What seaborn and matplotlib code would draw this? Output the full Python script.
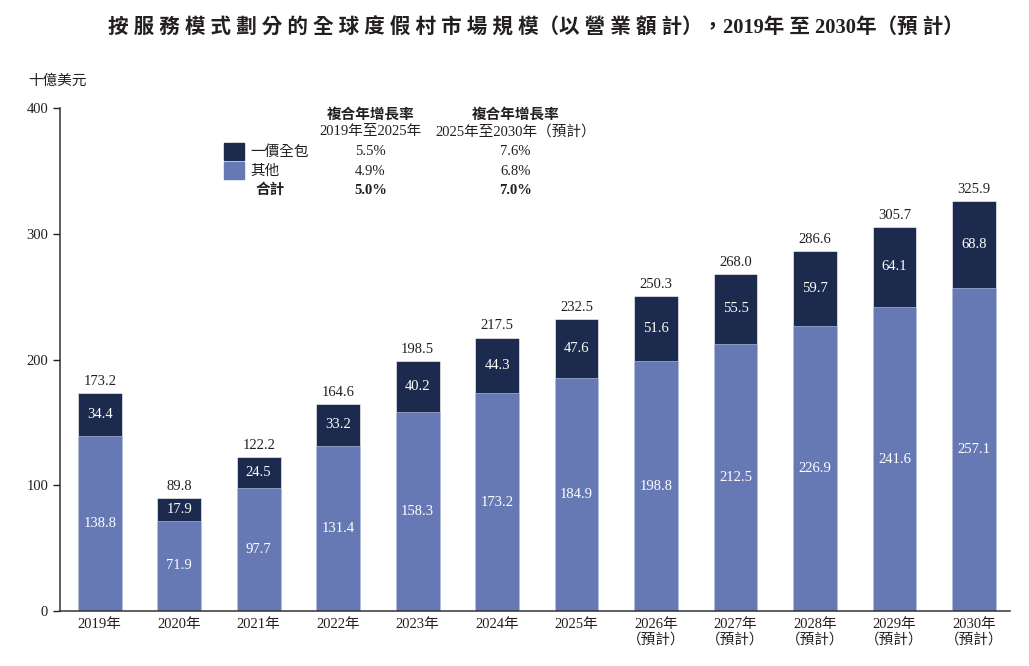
import pandas as pd
import numpy as np
import matplotlib.pyplot as plt
import seaborn as sns

# Data
years = ["2019年", "2020年", "2021年", "2022年", "2023年", "2024年", "2025年",
         "2026年\n（預計）", "2027年\n（預計）", "2028年\n（預計）",
         "2029年\n（預計）", "2030年\n（預計）"]
others = [138.8, 71.9, 97.7, 131.4, 158.3, 173.2, 184.9, 198.8, 212.5, 226.9, 241.6, 257.1]
all_inclusive = [34.4, 17.9, 24.5, 33.2, 40.2, 44.3, 47.6, 51.6, 55.5, 59.7, 64.1, 68.8]
totals = [173.2, 89.8, 122.2, 164.6, 198.5, 217.5, 232.5, 250.3, 268.0, 286.6, 305.7, 325.9]

series_names = ["一價全包", "其他"]
cagr_1925 = ["5.5%", "4.9%", "5.0%"]
cagr_2530 = ["7.6%", "6.8%", "7.0%"]

df = pd.DataFrame({"year": years, "others": others,
                   "inclusive": all_inclusive, "total": totals})
df["stack"] = df["others"] + df["inclusive"]

DARK = "#1c2a4d"
LIGHT = "#6779b5"
TEXT = "#231f20"

sns.set_style("white")
plt.rcParams['font.family'] = ['Liberation Serif', 'Noto Sans CJK TC']

fig = plt.figure(figsize=(10.29, 6.66), dpi=100)
ax = fig.add_axes([0.0583, 0.0826, 0.923, 0.7552])

# Stacked bars: full height in dark, bottom segment in light
sns.barplot(data=df, x="year", y="stack", color=DARK, width=0.55,
            saturation=1, ax=ax, edgecolor="white", linewidth=0.4)
sns.barplot(data=df, x="year", y="others", color=LIGHT, width=0.55,
            saturation=1, ax=ax, edgecolor="#c9d1ea", linewidth=0.4)

for i, row in df.iterrows():
    ax.text(i, row["others"] / 2, f"{row['others']:.1f}", ha="center",
            va="center", color="white", fontsize=10.5)
    ax.text(i, row["others"] + row["inclusive"] / 2, f"{row['inclusive']:.1f}",
            ha="center", va="center", color="white", fontsize=10.5)
    ax.text(i, row["stack"] + 4, f"{row['total']:.1f}", ha="center",
            va="bottom", color=TEXT, fontsize=10.5)

ax.set_xlim(-0.5, 11.45)
ax.set_ylim(0, 400)
ax.set_yticks([0, 100, 200, 300, 400])
ax.set_xlabel("")
ax.set_ylabel("")
ax.tick_params(axis="x", length=0, labelsize=10.5, colors=TEXT, pad=5)
ax.tick_params(axis="y", length=5, width=1, labelsize=10.5, colors=TEXT, left=True)
for lab in ax.get_xticklabels():
    lab.set_linespacing(1.15)
sns.despine(ax=ax)
ax.spines["left"].set_color("#333333")
ax.spines["bottom"].set_color("#333333")
ax.spines["left"].set_linewidth(1.1)
ax.spines["bottom"].set_linewidth(1.1)

# Unit label and title
fig.text(0.027, 0.878, "十億美元", fontsize=10.5, color=TEXT, va="center")
title = "按 服 務 模 式 劃 分 的 全 球 度 假 村 市 場 規 模（以 營 業 額 計），2019年 至 2030年（預 計）"
fig.text(0.521, 0.958, title, fontsize=14.8, fontweight="bold", color=TEXT,
         ha="center", va="center")

# Legend / CAGR table
col1, col2 = 0.360, 0.501
fig.text(col1, 0.828, "複合年增長率", ha="center", va="center", fontsize=10.5,
         fontweight="bold", color=TEXT)
fig.text(col1, 0.803, "2019年至2025年", ha="center", va="center", fontsize=10.5, color=TEXT)
fig.text(col2, 0.828, "複合年增長率", ha="center", va="center", fontsize=10.5,
         fontweight="bold", color=TEXT)
fig.text(col2, 0.803, "2025年至2030年（預計）", ha="center", va="center", fontsize=10.5, color=TEXT)

rows_y = [0.772, 0.743, 0.714]
for color, y in zip([DARK, LIGHT], rows_y[:2]):
    fig.patches.append(plt.Rectangle((0.2177, y - 0.0125), 0.019, 0.026,
                                     transform=fig.transFigure, color=color))
for name, y in zip(series_names, rows_y[:2]):
    fig.text(0.243, y, name, va="center", fontsize=10.5, color=TEXT)
fig.text(0.248, rows_y[2], "合計", va="center", fontsize=10.5,
         fontweight="bold", color=TEXT)
for k, y in enumerate(rows_y):
    w = "bold" if k == 2 else "normal"
    fig.text(col1, y, cagr_1925[k], ha="center", va="center", fontsize=10.5,
             fontweight=w, color=TEXT)
    fig.text(col2, y, cagr_2530[k], ha="center", va="center", fontsize=10.5,
             fontweight=w, color=TEXT)

fig.savefig("out.png", dpi=100)
